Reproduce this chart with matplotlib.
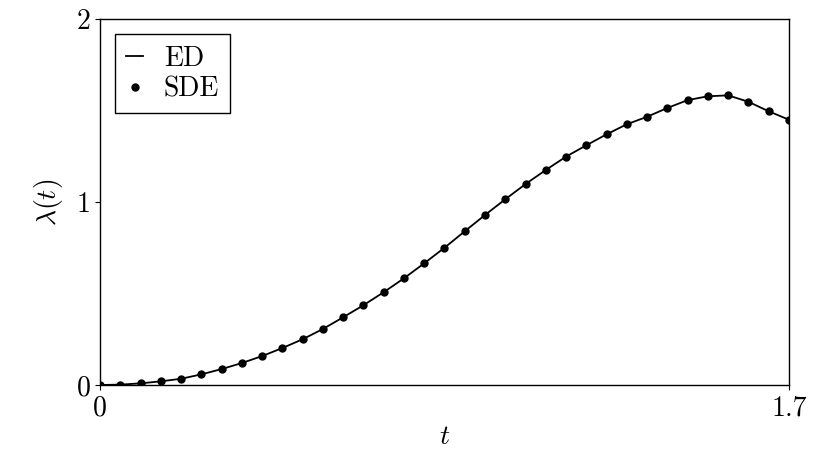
import numpy as np
import matplotlib
matplotlib.use("Agg")
import matplotlib.pyplot as plt

# computer-modern look
plt.rcParams["font.family"] = "serif"
plt.rcParams["font.serif"] = ["cmr10"]
plt.rcParams["mathtext.fontset"] = "cm"
plt.rcParams["axes.formatter.use_mathtext"] = True
plt.rcParams["font.size"] = 20

# time grid (step 0.05 from 0 to 1.7)
t = np.arange(35) * 0.05

# exact diagonalisation curve
lam_ed = [
    0.000, 0.002, 0.009, 0.020, 0.034, 0.058, 0.087, 0.120, 0.158, 0.202,
    0.250, 0.306, 0.370, 0.436, 0.507, 0.583, 0.665, 0.750, 0.840, 0.929,
    1.015, 1.098, 1.175, 1.248, 1.310, 1.370, 1.425, 1.466, 1.514, 1.557,
    1.578, 1.583, 1.548, 1.496, 1.450,
]
# stochastic (SDE) samples
lam_sde = [
    0.000, 0.002, 0.009, 0.020, 0.034, 0.058, 0.087, 0.120, 0.158, 0.202,
    0.250, 0.306, 0.370, 0.436, 0.507, 0.583, 0.665, 0.750, 0.840, 0.929,
    1.015, 1.098, 1.175, 1.248, 1.310, 1.370, 1.425, 1.466, 1.514, 1.557,
    1.578, 1.583, 1.548, 1.496, 1.450,
]

fig = plt.figure(figsize=(8.3, 4.54), dpi=100)
ax = fig.add_axes([0.1205, 0.152, 0.830, 0.806])

ax.plot(t, lam_ed, "-", color="black", lw=1.3, label="ED")
ax.plot(t, lam_sde, "o", color="black", ms=5, label="SDE")

ax.set_xlim(0, 1.7)
ax.set_ylim(0, 2)
ax.set_xticks([0, 1.7])
ax.set_xticklabels(["0", "1.7"])
ax.set_yticks([0, 1, 2])
ax.set_yticklabels(["0", "1", "2"])
ax.set_xlabel(r"$t$", labelpad=2)
ax.set_ylabel(r"$\lambda(t)$", labelpad=8)

for s in ax.spines.values():
    s.set_linewidth(1.0)

leg = ax.legend(loc="upper left", handlelength=0.6, handletextpad=0.75,
                fancybox=False, edgecolor="black", framealpha=1,
                borderpad=0.4, labelspacing=0.15, borderaxespad=0.55)
leg.get_frame().set_linewidth(1.0)

fig.savefig("out.png", dpi=100)
